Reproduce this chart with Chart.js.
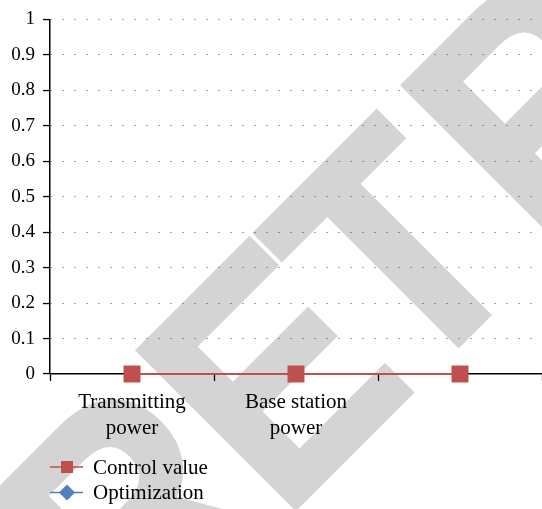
<!DOCTYPE html>
<html>
<head>
<meta charset="utf-8">
<script src="https://cdn.jsdelivr.net/npm/chart.js@4"></script>
<style>
  html, body { margin: 0; padding: 0; background: #fff; }
  #wrap { width: 542px; height: 509px; position: relative; }
</style>
</head>
<body>
<div id="wrap"><canvas id="chart"></canvas></div>
<script>
const categories = [["Transmitting", "power"], ["Base station", "power"], ""];
const controlValue = [0, 0, 0];
const optimization = [0, 0, 0];
const yTickLabels = ["0", "0.1", "0.2", "0.3", "0.4", "0.5", "0.6", "0.7", "0.8", "0.9", "1"];

const FONT = "'Liberation Serif', 'Times New Roman', serif";
const RED = "#C0504D";
const BLUE = "#4F81BD";

// grey "RETRACTED" stamp behind everything, baseline along x + y = 807
const watermark = {
  id: "watermark",
  beforeDraw(chart) {
    const ctx = chart.ctx;
    const letters = [["R", -380], ["E", -169], ["T", 13], ["R", 206], ["A", 417]];
    ctx.save();
    ctx.fillStyle = "#d4d4d4";
    ctx.strokeStyle = "#d4d4d4";
    ctx.lineWidth = 6;
    ctx.lineJoin = "miter";
    ctx.font = "bold 322px 'Liberation Sans', Arial, sans-serif";
    ctx.textBaseline = "alphabetic";
    letters.forEach(([ch, s]) => {
      ctx.save();
      ctx.translate(403.5 + s * Math.SQRT1_2, 403.5 - s * Math.SQRT1_2);
      ctx.rotate(-Math.PI / 4);
      ctx.scale(0.9, 1);
      ctx.fillText(ch, 0, -3);
      ctx.strokeText(ch, 0, -3);
      ctx.restore();
    });
    ctx.restore();
  }
};

// stacked legend under the axis, line through marker like the original
const stackedLegend = {
  id: "stackedLegend",
  afterDraw(chart) {
    const ctx = chart.ctx;
    chart.data.datasets.forEach((ds, i) => {
      const y = 467 + i * 25.5;
      ctx.save();
      ctx.strokeStyle = ds.borderColor;
      ctx.lineWidth = 1.5;
      ctx.beginPath();
      ctx.moveTo(50, y);
      ctx.lineTo(83, y);
      ctx.stroke();
      ctx.fillStyle = ds.borderColor;
      ctx.beginPath();
      if (ds.pointStyle === "rect") {
        ctx.rect(61, y - 6, 12, 12);
      } else {
        ctx.moveTo(67, y - 8);
        ctx.lineTo(75, y);
        ctx.lineTo(67, y + 8);
        ctx.lineTo(59, y);
        ctx.closePath();
      }
      ctx.fill();
      ctx.fillStyle = "#000";
      ctx.font = "21px " + FONT;
      ctx.textBaseline = "middle";
      ctx.fillText(ds.label, 93, y + 1);
      ctx.restore();
    });
  }
};

new Chart(document.getElementById("chart"), {
  type: "line",
  data: {
    labels: categories,
    datasets: [
      {
        label: "Control value",
        data: controlValue,
        borderColor: RED,
        backgroundColor: RED,
        borderWidth: 2,
        pointStyle: "rect",
        pointRadius: 12,
        pointBorderWidth: 0,
        pointBackgroundColor: RED,
        clip: false
      },
      {
        label: "Optimization",
        data: optimization,
        borderColor: BLUE,
        backgroundColor: BLUE,
        borderWidth: 2,
        pointStyle: "rectRot",
        pointRadius: 8,
        pointBorderWidth: 0,
        pointBackgroundColor: BLUE,
        clip: false
      }
    ]
  },
  options: {
    responsive: true,
    maintainAspectRatio: false,
    animation: false,
    events: [],
    layout: {
      autoPadding: false,
      padding: { top: 16, left: 0, right: 0, bottom: 55 }
    },
    plugins: {
      legend: { display: false },
      tooltip: { enabled: false }
    },
    scales: {
      x: {
        offset: true,
        grid: {
          offset: true,
          drawOnChartArea: false,
          drawTicks: true,
          tickLength: 7,
          tickColor: "#000",
          tickWidth: 1.3
        },
        border: { color: "#000", width: 1.5 },
        ticks: {
          color: "#000",
          font: { family: FONT, size: 21, lineHeight: 1.24 },
          padding: 8,
          maxRotation: 0,
          autoSkip: false
        },
        afterFit(scale) {
          scale.height = 80;
          scale.paddingLeft = 0;
          scale.paddingRight = 0;
        }
      },
      y: {
        min: 0,
        max: 1,
        grid: {
          color: "#444",
          lineWidth: 1.1,
          tickLength: 7,
          tickColor: "#000",
          tickWidth: 1.3
        },
        border: { color: "#000", width: 1.5, dash: [1, 11] },
        ticks: {
          stepSize: 0.1,
          color: "#000",
          font: { family: FONT, size: 19 },
          padding: 8,
          callback: (v, i) => yTickLabels[i]
        },
        afterFit(scale) { scale.width = 50; }
      }
    }
  },
  plugins: [watermark, stackedLegend]
});
</script>
</body>
</html>
